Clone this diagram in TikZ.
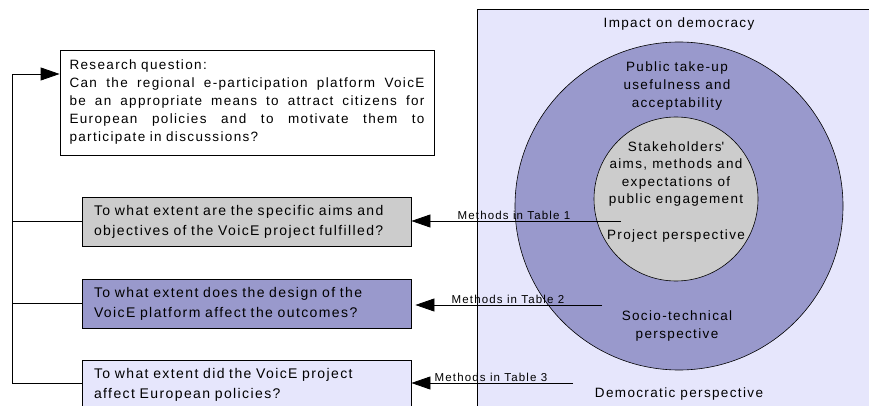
\documentclass[tikz,border=0pt]{standalone}
\usepackage{fontspec}
\setmainfont{Liberation Sans}[LetterSpace=10]
\usetikzlibrary{arrows.meta,calc}
\definecolor{PaleLilac}{RGB}{230,230,252}
\definecolor{MidLilac}{RGB}{153,153,204}
\definecolor{LightGray}{RGB}{204,204,204}
\newcommand{\jline}[1]{\leavevmode\hbox to 355pt{\spaceskip=0.25em plus 1fil\relax #1}}

\begin{document}
\begin{tikzpicture}[x=1pt,y=-1pt,
  qbox/.style={draw,line width=0.8pt,minimum width=329pt,minimum height=49pt,text width=305pt,align=left,inner sep=0pt,
    font=\fontsize{14}{20}\selectfont},
  ring/.style={circle,draw,line width=0.6pt,inner sep=0pt},
  lbl/.style={align=center,font=\fontsize{13.5}{18}\selectfont},
  meth/.style={font=\fontsize{11.5}{13}\selectfont,inner sep=1pt,anchor=south},
  tip/.style={-{Triangle[length=19pt,width=13pt]},line width=0.8pt}]

\useasboundingbox (0,0) rectangle (869,406);

% democracy panel
\fill[PaleLilac] (477,9) rectangle (880,420);
\draw[line width=0.8pt] (477,420) -- (477,9) -- (880,9);

\node[ring,fill=MidLilac,minimum size=328pt] (O) at (679,206) {};
\node[ring,fill=LightGray,minimum size=164pt] (I) at (676,199) {};

\node[lbl] (T0) at (679,24) {Impact on democracy};
\node[lbl] (T1) at (677,86) {Public take-up\\usefulness and\\acceptability};
\node[lbl,font=\fontsize{13.5}{17.5}\selectfont] (T2) at (676,174) {Stakeholders\textquotesingle\\aims, methods and\\expectations of\\public engagement};
\node[lbl] (T3) at (676,236) {Project perspective};
\node[lbl] (T4) at (677,326) {Socio-technical\\perspective};
\node[lbl] (T5) at (679,394) {Democratic perspective};

% questions
\node[draw,line width=0.8pt,minimum width=374pt,minimum height=105pt,text width=355pt,align=left,inner sep=0pt,
  font=\fontsize{13.5}{18}\selectfont] (RQ) at (247,102.5)
  {Research question:\\\jline{Can the regional e-participation platform VoicE}\\
   \jline{be an appropriate means to attract citizens for}\\
   \jline{European policies and to motivate them to}\\participate in discussions?};
\node[qbox,fill=LightGray] (Q1) at (246.5,221.5)
  {To what extent are the specific aims and\\objectives of the VoicE project fulfilled?};
\node[qbox,fill=MidLilac] (Q2) at (246.5,303.5)
  {To what extent does the design of the\\VoicE platform affect the outcomes?};
\node[qbox,fill=PaleLilac] (Q3) at (246.5,384.5)
  {To what extent did the VoicE project\\affect European policies?};

% feedback bus
\coordinate (B) at (12,74);
\draw[tip] (Q3.west |- 0,383) -| (B) -- (B -| RQ.west);
\draw[line width=0.8pt] (Q1.west) -- (Q1.west -| B);
\draw[line width=0.8pt] (Q2.west) -- (Q2.west -| B);

% methods
\coordinate (M1) at (621,221);
\coordinate (M2) at (602,305);
\coordinate (M3) at (573,383);
\draw[tip] (M1) -- (M1 -| Q1.east);
\draw[tip,shorten >=4pt] (M2) -- (M2 -| Q2.east);
\draw[tip] (M3) -- (M3 -| Q3.east);
\node[meth] (L1) at (514,221) {Methods in Table 1};
\node[meth] (L2) at (508,305) {Methods in Table 2};
\node[meth] (L3) at (491,383) {Methods in Table 3};

\end{tikzpicture}
\end{document}
